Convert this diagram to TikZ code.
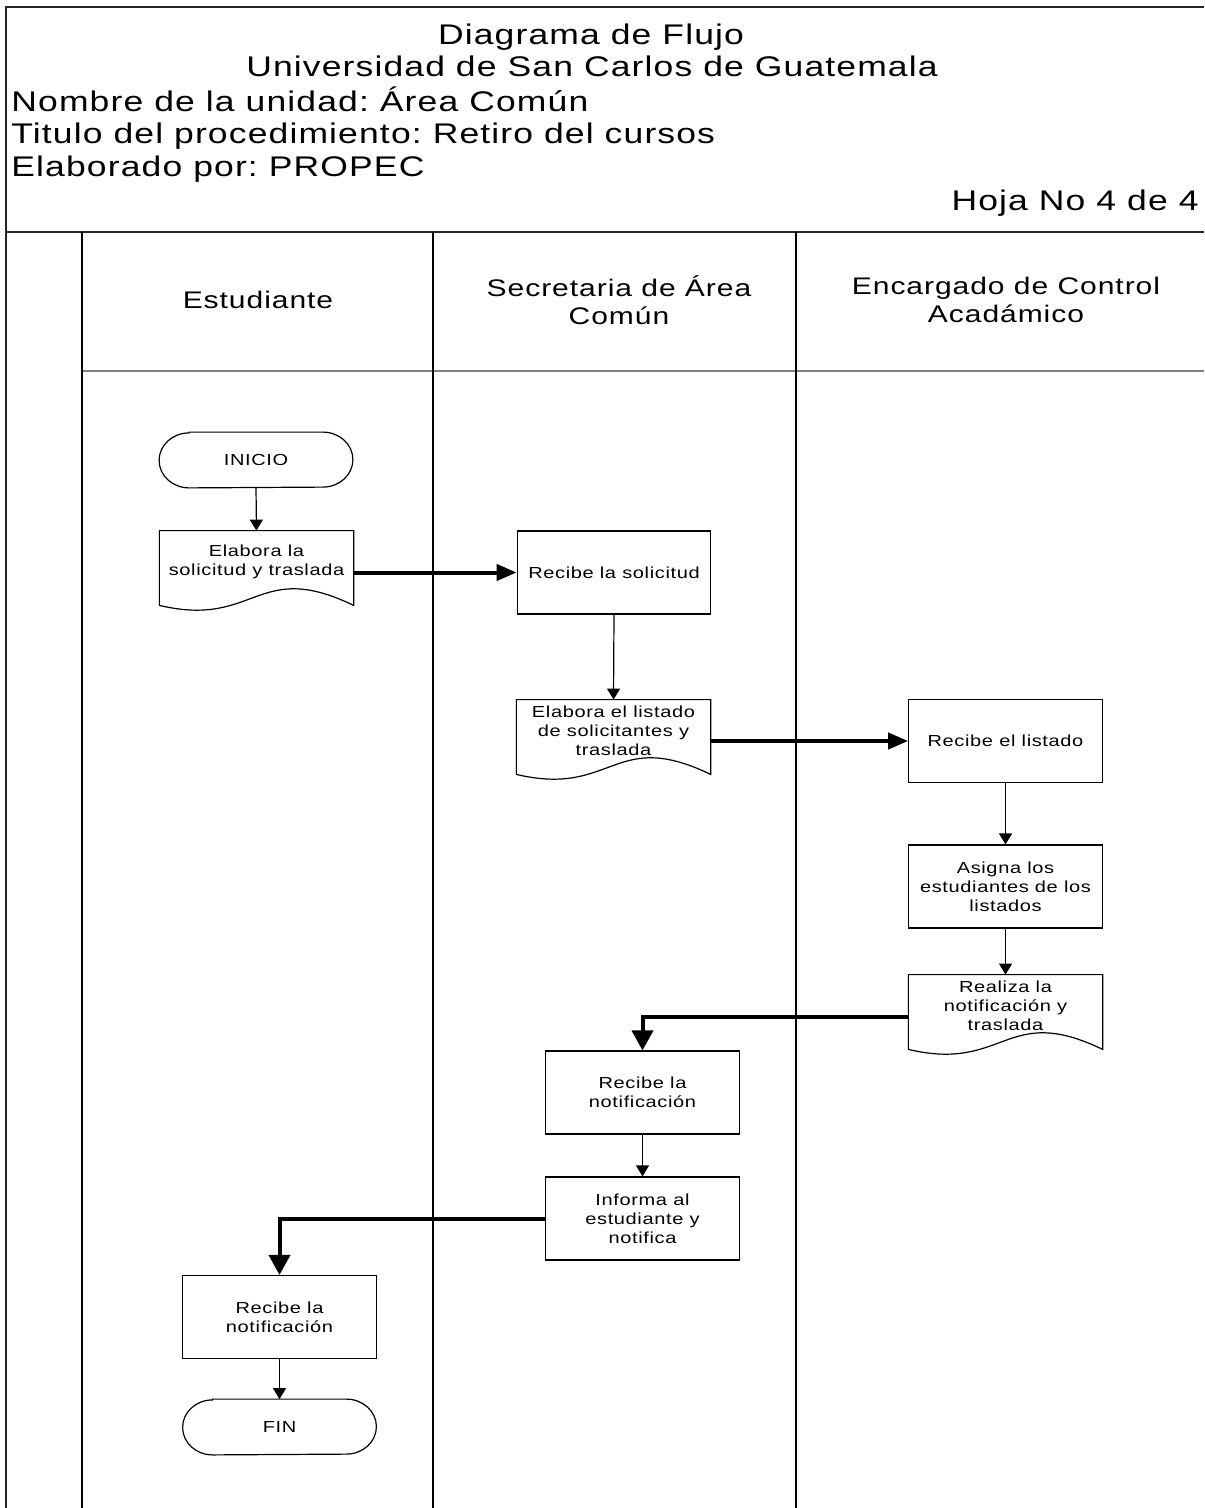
\documentclass[tikz,border=0pt]{standalone}
\usepackage{fontspec}
\setmainfont[FakeStretch=1.25,LetterSpace=4]{Liberation Sans}
\usetikzlibrary{arrows.meta,calc}
\frenchspacing
\newcommand\boxfont{\fontsize{8}{9.5}\selectfont}
\newcommand\titlefont{\fontsize{14.2}{16}\selectfont}
\newcommand\lanefont{\fontsize{12}{14}\selectfont}
\newcommand\docoutline[1]{%
  \draw[line width=0.6pt] (#1.north west) -- (#1.north east) -- ($(#1.south east)+(0,12)$)
    .. controls ($(#1.south)+(0,-35)$) and ($(#1.south)+(0,35)$) .. ($(#1.south west)+(0,12)$) -- cycle;}
\newcommand\termoutline[1]{%
  \draw[line width=0.6pt] ($(#1.north west)+(30,0)$) -- ($(#1.north east)+(-30,0)$)
    arc[start angle=90,end angle=-90,x radius=15pt,y radius=13.75pt]
    -- ($(#1.south west)+(30,0)$)
    arc[start angle=270,end angle=90,x radius=15pt,y radius=13.75pt] -- cycle;}
\begin{document}
\begin{tikzpicture}[x=0.5pt,y=-0.5pt,
  procbox/.style={draw, line width=0.6pt, minimum width=96.75pt, minimum height=41.5pt, inner sep=0pt, align=center, font=\boxfont},
  docnode/.style={minimum width=96.75pt, minimum height=31pt, inner sep=0pt, align=center, font=\boxfont},
  termnode/.style={minimum width=96.5pt, minimum height=27.5pt, inner sep=0pt, font=\boxfont},
  thinarrow/.style={line width=0.6pt, -{Triangle[length=5.5pt,width=6.5pt]}},
  thickh/.style={line width=2pt, -{Triangle[length=10pt,width=8pt]}},
  thickv/.style={line width=2pt, -{Triangle[length=10pt,width=10.5pt]}},
  frameline/.style={line width=1pt, black!85},
  laneline/.style={line width=0.8pt, black}]
\useasboundingbox (0,0) rectangle (1204,1508);
% frame and lanes
\draw[frameline] (6,1508) -- (6,7) -- (1204,7);
\draw[frameline] (6,232) -- (1204,232);
\draw[line width=1pt, black!50] (82,371) -- (1204,371);
\draw[laneline] (82,232) -- (82,1508);
\draw[laneline] (433,232) -- (433,1508);
\draw[laneline] (796,232) -- (796,1508);
% titles
\node[anchor=base, font=\titlefont] (t1) at (591,45) {Diagrama de Flujo};
\node[anchor=base, font=\titlefont] (t2) at (592,77) {Universidad de San Carlos de Guatemala};
\node[anchor=base west, inner sep=0pt, font=\titlefont] (t3) at (11,112) {Nombre de la unidad: Área Común};
\node[anchor=base west, inner sep=0pt, font=\titlefont] (t4) at (11,144) {Titulo del procedimiento: Retiro del cursos};
\node[anchor=base west, inner sep=0pt, font=\titlefont] (t5) at (11,177) {Elaborado por: PROPEC};
\node[anchor=base east, inner sep=0pt, font=\titlefont] (t6) at (1199,211) {Hoja No 4 de 4};
% lane headers
\node[font=\lanefont, align=center] (h1) at (258,300) {Estudiante};
\node[font=\lanefont, align=center] (h2) at (619,300) {Secretaria de Área\\Común};
\node[font=\lanefont, align=center] (h3) at (1006,300) {Encargado de Control\\Acadámico};
% nodes
\node[termnode] (ini) at (256,460) {INICIO};
\termoutline{ini}
\node[docnode] (ds1) at (256.5,562) {Elabora la\\solicitud y traslada};
\docoutline{ds1}
\node[procbox] (rs) at (614,572.5) {Recibe la solicitud};
\node[docnode] (ds2) at (613.5,731) {Elabora el listado\\de solicitantes y\\traslada};
\docoutline{ds2}
\node[procbox] (rl) at (1005.5,741) {Recibe el listado};
\node[procbox] (as) at (1005.5,886.5) {Asigna los\\estudiantes de los\\listados};
\node[docnode] (ds3) at (1005.5,1006) {Realiza la\\notificación y\\traslada};
\docoutline{ds3}
\node[procbox] (rn1) at (642.5,1092.5) {Recibe la\\notificación};
\node[procbox] (inf) at (642.5,1218.5) {Informa al\\estudiante y\\notifica};
\node[procbox] (rn2) at (279.5,1317) {Recibe la\\notificación};
\node[termnode] (fin) at (279.5,1427) {FIN};
\termoutline{fin}
% connectors
\draw[thinarrow] (ini.south) -- (ds1.north);
\draw[thickh] (ds1.east |- rs.west) -- (rs.west);
\draw[thinarrow] (rs.south) -- (ds2.north);
\draw[thickh] (ds2.east |- rl.west) -- (rl.west);
\draw[thinarrow] (rl.south) -- (as.north);
\draw[thinarrow] (as.south) -- (ds3.north);
\draw[thickv] ($(ds3.west)+(0,11)$) -| (rn1.north);
\draw[thinarrow] (rn1.south) -- (inf.north);
\draw[thickv] (inf.west) -| (rn2.north);
\draw[thinarrow] (rn2.south) -- (fin.north);
\end{tikzpicture}
\end{document}
